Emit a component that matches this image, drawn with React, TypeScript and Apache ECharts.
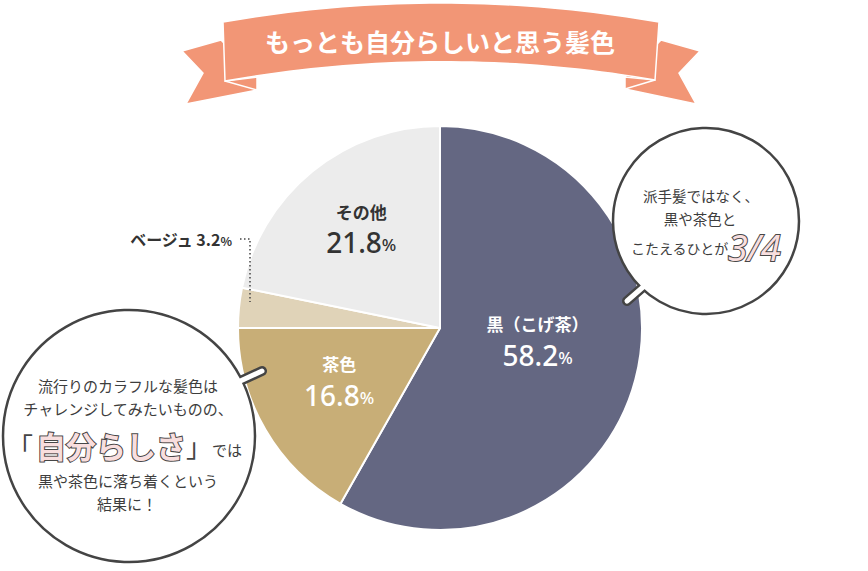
import React, { useEffect, useRef } from 'react';
import * as echarts from 'echarts';

const categories = ['黒（こげ茶）', '茶色', 'ベージュ', 'その他'];
const values = [58.2, 16.8, 3.2, 21.8];
const sliceColors = ['#646782', '#c8ae77', '#e0d3b8', '#ececec'];
const titleText = 'もっとも自分らしいと思う髪色';
const rightBubbleLines = ['派手髪ではなく、', '黒や茶色と', 'こたえるひとが'];
const rightHighlight = '3/4';
const leftBubbleTop = ['流行りのカラフルな髪色は', 'チャレンジしてみたいものの、'];
const leftHighlight = '自分らしさ';
const leftAfterHighlight = 'では';
const leftBubbleBottom = ['黒や茶色に落ち着くという', '結果に！'];

const JP = '"Noto Sans CJK JP", "Noto Sans", sans-serif';
const NUM = '"Noto Sans", "Noto Sans CJK JP", sans-serif';
const INK = '#3d3d3d';
const BANNER = '#f29676';
const PINK = '#f8dede';
const OUTLINE = '#474747';

function quad(p0: number[], c: number[], p2: number[], n = 40) {
  const pts: number[][] = [];
  for (let i = 0; i <= n; i++) {
    const t = i / n;
    const a = (1 - t) * (1 - t), b = 2 * (1 - t) * t, d = t * t;
    pts.push([a * p0[0] + b * c[0] + d * p2[0], a * p0[1] + b * c[1] + d * p2[1]]);
  }
  return pts;
}

function txt(x: number, y: number, text: string, size: number, extra: any = {}, align = 'center') {
  return {
    type: 'text',
    x,
    y,
    z: 120,
    silent: true,
    style: {
      text,
      fill: INK,
      fontSize: size,
      fontFamily: JP,
      align,
      verticalAlign: 'middle',
      textAlign: align,
      textVerticalAlign: 'middle',
      ...extra,
    },
  };
}

export default function App() {
  const ref = useRef<HTMLDivElement>(null);
  useEffect(() => {
    if (!ref.current) return;
    const chart = echarts.init(ref.current, null, { renderer: 'svg' });

    const top = quad([223, 22], [440, -16], [659, 22]);
    const bottom = quad([225, 81], [440, 43], [655, 80]).reverse();
    const mainBanner = top.concat(bottom);

    const bubble = (cx: number, cy: number, r: number, s: number[], e: number[]) => [
      { type: 'line', z: 110, silent: true, shape: { x1: s[0], y1: s[1], x2: e[0], y2: e[1] }, style: { stroke: '#444', lineWidth: 10, lineCap: 'round' } },
      { type: 'circle', z: 111, silent: true, shape: { cx, cy, r }, style: { fill: '#fff', stroke: '#444', lineWidth: 2.5 } },
      { type: 'line', z: 112, silent: true, shape: { x1: s[0], y1: s[1], x2: e[0], y2: e[1] }, style: { stroke: '#fff', lineWidth: 5, lineCap: 'round' } },
    ];

    const graphic: any[] = [
      // ribbon tails
      { type: 'polygon', z: 100, silent: true, shape: { points: [[182, 51], [221, 40], [257, 77], [257, 90], [186, 104], [203, 73]] }, style: { fill: BANNER, stroke: '#fff', lineWidth: 1.5 } },
      { type: 'polygon', z: 101, silent: true, shape: { points: [[225, 81], [257, 77], [257, 90]] }, style: { fill: BANNER, stroke: '#fff', lineWidth: 1.5 } },
      { type: 'polygon', z: 100, silent: true, shape: { points: [[700, 51], [661, 40], [625, 77], [625, 89], [696, 104], [679, 73]] }, style: { fill: BANNER, stroke: '#fff', lineWidth: 1.5 } },
      { type: 'polygon', z: 101, silent: true, shape: { points: [[655, 80], [625, 77], [625, 89]] }, style: { fill: BANNER, stroke: '#fff', lineWidth: 1.5 } },
      { type: 'polygon', z: 102, silent: true, shape: { points: mainBanner }, style: { fill: BANNER, stroke: '#fff', lineWidth: 1.5 } },
      txt(440, 41, titleText, 25, { fill: '#fff', fontWeight: 'bold' }),
      // leader for beige
      { type: 'polyline', z: 105, silent: true, shape: { points: [[240, 239], [250, 239], [250, 302]] }, style: { stroke: '#444', lineWidth: 1.5, lineDash: [1.5, 2.5], fill: 'none' } },
      // bubbles
      ...bubble(706, 221, 93, [650, 281], [627, 301]),
      ...bubble(129, 436, 126, [236, 383], [262, 371]),
      // right bubble text
      txt(701, 195, rightBubbleLines[0], 14.5),
      txt(700, 218, rightBubbleLines[1], 14.5),
      txt(631, 248, rightBubbleLines[2], 14, {}, 'left'),
      txt(728, 247, rightHighlight, 36, { fontFamily: NUM, fontStyle: 'italic', fill: PINK, stroke: OUTLINE, lineWidth: 2 }, 'left'),
      // left bubble text
      txt(128, 385, leftBubbleTop[0], 15),
      txt(128, 408, leftBubbleTop[1], 15),
      {
        type: 'text',
        x: 7,
        y: 445,
        z: 120,
        silent: true,
        style: {
          text: `{q1|「}{h|${leftHighlight}}{q2|」}{s|${leftAfterHighlight}}`,
          align: 'left',
          verticalAlign: 'middle',
          textAlign: 'left',
          textVerticalAlign: 'middle',
          fontFamily: JP,
          rich: {
            q1: { fontSize: 26, fontFamily: JP, fill: '#444', width: 29 },
            h: { fontSize: 30, fontFamily: JP, fontWeight: 'bold', fill: PINK, stroke: OUTLINE, lineWidth: 2 },
            q2: { fontSize: 26, fontFamily: JP, fill: '#444', width: 26 },
            s: { fontSize: 15, fontFamily: JP, fill: INK, verticalAlign: 'bottom', padding: [0, 0, 3, 0] },
          },
        },
      },
      txt(128, 480, leftBubbleBottom[0], 15),
      txt(127, 503, leftBubbleBottom[1], 15),
    ];

    const offsets: Record<number, number[]> = { 0: [-3, -13], 1: [-11, 1], 3: [-13, -19] };

    chart.setOption({
      animation: false,
      backgroundColor: '#fff',
      graphic,
      series: [
        {
          type: 'pie',
          center: [440, 328],
          radius: 202,
          startAngle: 90,
          clockwise: true,
          silent: true,
          emphasis: { disabled: true },
          itemStyle: { borderColor: '#fff', borderWidth: 2 },
          labelLine: { show: false },
          data: categories.map((name, i) => ({ name, value: values[i], itemStyle: { color: sliceColors[i] } })),
          label: {
            show: true,
            position: 'inside',
            textBorderWidth: 0,
            formatter: (p: any) => {
              const i = p.dataIndex;
              if (i === 2) return `{bn|${p.name} ${p.value}}{bp|%}`;
              if (i === 3) return `{dn|${p.name}}\n{dv|${p.value}}{dp|%}`;
              return `{wn|${p.name}}\n{wv|${p.value}}{wp|%}`;
            },
            rich: {
              wn: { color: '#fff', fontSize: 17, fontWeight: 'bold', fontFamily: JP, lineHeight: 28 },
              wv: { color: '#fff', fontSize: 28, fontWeight: 500, fontFamily: NUM, lineHeight: 36 },
              wp: { color: '#fff', fontSize: 17, fontWeight: 500, fontFamily: NUM, lineHeight: 36, padding: [5, 0, 0, 0] },
              dn: { color: '#333', fontSize: 17, fontWeight: 'bold', fontFamily: JP, lineHeight: 27 },
              dv: { color: '#333', fontSize: 28, fontWeight: 500, fontFamily: NUM, lineHeight: 33 },
              dp: { color: '#333', fontSize: 17, fontWeight: 500, fontFamily: NUM, lineHeight: 33, padding: [5, 0, 0, 0] },
              bn: { color: '#333', fontSize: 16, fontWeight: 'bold', fontFamily: JP },
              bp: { color: '#333', fontSize: 12, fontWeight: 'bold', fontFamily: JP, padding: [3, 0, 0, 0] },
            },
          },
          labelLayout: (params: any) => {
            if (params.dataIndex === 2) {
              return { x: 232, y: 239, align: 'right', verticalAlign: 'middle' };
            }
            const o = offsets[params.dataIndex] || [0, 0];
            return { dx: o[0], dy: o[1] };
          },
        },
      ],
    });
    return () => chart.dispose();
  }, []);
  return <div ref={ref} style={{ position: 'fixed', left: 0, top: 0, width: 868, height: 571 }} />;
}
